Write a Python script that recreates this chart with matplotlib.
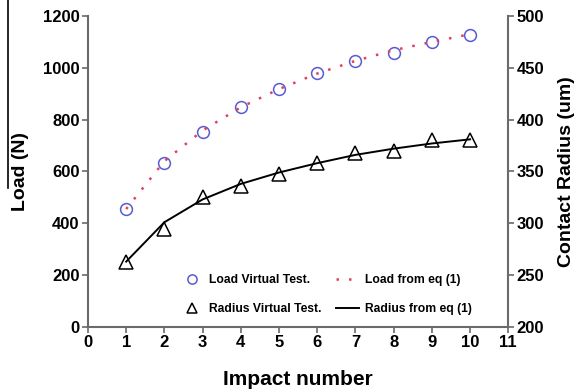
import matplotlib.pyplot as plt
from matplotlib.lines import Line2D

plt.rcParams['font.family'] = ['Liberation Sans', 'DejaVu Sans']
plt.rcParams['font.weight'] = 'bold'

# data
impact = [1, 2, 3, 4, 5, 6, 7, 8, 9, 10]
load_test = [455, 633, 752, 850, 917, 980, 1027, 1056, 1098, 1128]
load_eq = [455, 640, 758, 848, 918, 978, 1027, 1068, 1100, 1130]
radius_test = [263, 294, 325, 336, 348, 358, 368, 370, 380, 380]
radius_eq = [263, 301, 323, 338, 349, 358, 366, 372, 377, 381]

xticks = list(range(0, 12))
load_ticks = [0, 200, 400, 600, 800, 1000, 1200]
radius_ticks = [200, 250, 300, 350, 400, 450, 500]

fig = plt.figure(figsize=(5.75, 3.91), dpi=100)
ax = fig.add_axes([0.153, 0.164, 0.731, 0.795])
ax2 = ax.twinx()

spine_col = '#6a6a6a'

c1, = ax.plot(impact, load_test, linestyle='none', marker='o', markersize=8.5,
              markerfacecolor='none', markeredgecolor='#5a5ad2', markeredgewidth=1.1,
              label='Load Virtual Test.')
l1, = ax.plot(impact, load_eq, color='#e0405a', linestyle=(0, (1, 4)), linewidth=1.8,
              label='Load from eq (1)')
t2, = ax2.plot(impact, radius_test, linestyle='none', marker='^', markersize=9.5,
               markerfacecolor='none', markeredgecolor='black', markeredgewidth=1.1,
               label='Radius Virtual Test.')
l2, = ax2.plot(impact, radius_eq, color='black', linewidth=1.4, label='Radius from eq (1)')

ax.set_xlim(0, 11)
ax.set_ylim(0, 1200)
ax2.set_ylim(200, 500)
ax.set_xticks(xticks)
ax.set_yticks(load_ticks)
ax2.set_yticks(radius_ticks)

for a in (ax, ax2):
    a.spines['top'].set_visible(False)
    for s in ('left', 'right', 'bottom'):
        a.spines[s].set_color(spine_col)
        a.spines[s].set_linewidth(1.5)
    a.tick_params(direction='out', length=4, width=1.2, color=spine_col,
                  labelsize=12, pad=2)
ax.spines['right'].set_visible(False)
ax2.spines['left'].set_visible(False)
ax2.spines['bottom'].set_visible(False)

ax.set_xlabel('Impact number', fontsize=15, fontweight='bold', labelpad=14)
ax.set_ylabel('Load (N)', fontsize=14, fontweight='bold', labelpad=10)
ax2.set_ylabel('Contact Radius (um)', fontsize=14, fontweight='bold', labelpad=10)

ax2.legend([c1, t2, l1, l2],
           ['Load Virtual Test.', 'Radius Virtual Test.', 'Load from eq (1)', 'Radius from eq (1)'],
           ncol=2, loc='lower left', bbox_to_anchor=(0.195, 0.004), frameon=False,
           prop={'size': 8.7, 'weight': 'bold'}, handlelength=1.9, columnspacing=1.2,
           labelspacing=1.4, handletextpad=0.45, markerscale=0.78)

# thin black line at the left edge as in the source image
fig.add_artist(Line2D([0.014, 0.014], [1.0, 0.52], color='black', linewidth=1.2))

fig.savefig('out.png', dpi=100)
